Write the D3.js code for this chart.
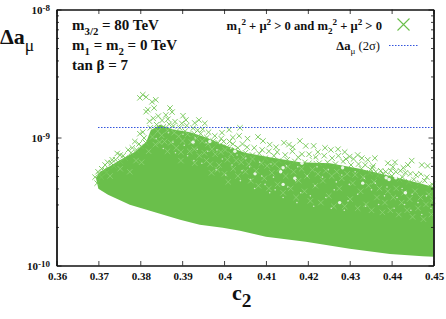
<!DOCTYPE html>
<html>
<head>
<meta charset="utf-8">
<script src="https://cdn.jsdelivr.net/npm/d3@7"></script>
<style>
  html, body { margin: 0; background: #fff; }
  svg { display: block; }
  text { font-family: "Liberation Serif", serif; fill: #111; }
</style>
</head>
<body>
<svg width="446" height="319"></svg>
<script>
// all a values are in units of 1e-10
var xTicks = [0.36, 0.37, 0.38, 0.39, 0.40, 0.41, 0.42, 0.43, 0.44, 0.45];
var yDecades = [-10, -9, -8];
var yMinor = [2, 3, 4, 5, 6, 7, 8, 9, 20, 30, 40, 50, 60, 70, 80, 90];

// bottom edge of the green cloud
var lowerC = [0.3694, 0.3700, 0.3723, 0.3775, 0.3823, 0.3895, 0.3942, 0.3997, 0.4038, 0.4100, 0.4195, 0.4300, 0.4396, 0.4474, 0.4500];
var lowerA = [4.84, 3.97, 3.57, 2.98, 2.68, 2.28, 2.08, 1.97, 1.87, 1.68, 1.53, 1.35, 1.23, 1.18, 1.17];

// top edge of the closely packed part
var cloudC = [0.3694, 0.3704, 0.3728, 0.3756, 0.3787, 0.3814, 0.3825, 0.3847, 0.3876, 0.3919, 0.3954, 0.4002, 0.4050, 0.4109, 0.4181, 0.4253, 0.4324, 0.4396, 0.4467, 0.4500];
var cloudA = [4.84, 5.4, 6.0, 6.8, 7.7, 9.2, 11.4, 12.6, 11.6, 11.0, 10.1, 8.7, 7.6, 7.0, 6.4, 6.3, 5.7, 5.0, 4.4, 4.1];

// separate crosses on the upper rim
var rimPoints = [
  [0.3806, 21.6], [0.3799, 20.4], [0.3814, 20.7], [0.3828, 19.0], [0.3837, 19.7], [0.3833, 17.0],
  [0.3818, 16.5], [0.3814, 15.9], [0.3871, 17.0], [0.3861, 15.0], [0.3876, 15.8], [0.3902, 14.8],
  [0.3909, 13.7], [0.3940, 13.7], [0.3930, 13.0], [0.3954, 12.9], [0.4012, 11.5], [0.3995, 10.9],
  [0.4038, 11.9], [0.4036, 10.3], [0.4021, 10.0], [0.4081, 10.1], [0.4093, 9.4], [0.4056, 9.8],
  [0.4109, 8.8], [0.4124, 8.4], [0.4143, 9.1], [0.4155, 8.8], [0.4164, 8.4], [0.4181, 9.4],
  [0.4195, 8.6], [0.4214, 8.6], [0.4224, 7.7], [0.4241, 8.3], [0.4255, 8.0], [0.4272, 8.1],
  [0.4288, 7.7], [0.4300, 7.1], [0.4319, 7.3], [0.4329, 6.9], [0.4343, 6.7], [0.4360, 6.9],
  [0.4391, 6.3], [0.4408, 6.4], [0.4439, 6.1], [0.4448, 6.6], [0.4472, 6.1], [0.4486, 6.0],
  [0.3787, 9.3], [0.3799, 10.7], [0.3806, 11.0], [0.3771, 8.0], [0.3752, 7.3], [0.3733, 6.7],
  [0.3716, 6.1], [0.3699, 5.4], [0.3692, 4.9], [0.3745, 7.5], [0.3722, 6.4], [0.3708, 5.7],
  [0.4350, 5.6], [0.4362, 5.4], [0.4374, 5.5], [0.4386, 5.4], [0.4398, 5.5], [0.4410, 5.4],
  [0.4421, 5.5], [0.4433, 5.3], [0.4445, 5.2], [0.4458, 5.1], [0.4470, 5.2], [0.4484, 4.9],
  [0.4356, 6.0], [0.4403, 5.9], [0.4428, 5.8]
];

// crosses that break up the top edge of the packed part
var edgePoints = [
  [0.3697, 4.4], [0.3703, 5.1], [0.3707, 4.9], [0.3715, 5.6], [0.3719, 5.3], [0.3731, 6.3], [0.3737, 6.0], [0.3741, 6.7],
  [0.3753, 6.5], [0.3759, 7.2], [0.3764, 6.9], [0.3778, 7.6], [0.3781, 8.3], [0.3791, 8.0], [0.3797, 8.9], [0.3802, 8.5],
  [0.3809, 9.9], [0.3813, 9.1], [0.3822, 13.4], [0.3824, 11.9], [0.3831, 14.1], [0.3839, 12.6], [0.3843, 14.7], [0.3852, 13.6],
  [0.3855, 12.1], [0.3866, 13.9], [0.3869, 12.7], [0.3879, 12.3], [0.3883, 13.3], [0.3894, 11.9], [0.3899, 12.9], [0.3907, 11.2],
  [0.3911, 12.4], [0.3926, 11.8], [0.3929, 10.7], [0.3937, 11.4], [0.3944, 10.7], [0.3949, 11.6], [0.3959, 10.0], [0.3963, 11.0],
  [0.3974, 9.4], [0.3978, 10.3], [0.3986, 9.1], [0.3993, 9.8], [0.3999, 9.3], [0.4007, 8.4], [0.4013, 9.3], [0.4021, 8.9],
  [0.4026, 8.0], [0.4033, 8.3], [0.4044, 8.9], [0.4051, 7.6], [0.4055, 8.4], [0.4068, 7.3], [0.4072, 8.3], [0.4084, 7.5],
  [0.4091, 8.0], [0.4099, 6.9], [0.4107, 7.8], [0.4119, 7.2], [0.4127, 7.7], [0.4131, 6.6], [0.4146, 7.3], [0.4151, 6.7],
  [0.4163, 7.8], [0.4169, 6.5], [0.4177, 7.0], [0.4186, 7.4], [0.4193, 6.4], [0.4203, 7.4], [0.4211, 6.7], [0.4219, 7.0],
  [0.4227, 6.3], [0.4239, 7.2], [0.4247, 6.4], [0.4258, 6.9], [0.4266, 6.2], [0.4273, 7.2], [0.4284, 6.5], [0.4291, 6.8],
  [0.4303, 6.1], [0.4309, 6.8], [0.4321, 6.2], [0.4328, 5.7], [0.4337, 6.1], [0.4348, 5.3], [0.4354, 5.8], [0.4367, 5.0],
  [0.4379, 5.2], [0.4392, 4.9], [0.4401, 5.0], [0.4419, 4.7], [0.4426, 4.9], [0.4441, 4.5], [0.4453, 4.7], [0.4467, 4.4],
  [0.4479, 4.6], [0.4491, 4.2], [0.4497, 4.3]
];

// paler crosses showing through inside the packed part
var innerPoints = [
  [0.3829, 10.1], [0.3842, 11.2], [0.3836, 8.8], [0.3851, 10.4], [0.3858, 9.3], [0.3846, 9.2], [0.3865, 11.4], [0.3881, 10.9],
  [0.3873, 9.1], [0.3892, 10.2], [0.3886, 8.3], [0.3901, 9.4], [0.3897, 7.7], [0.3913, 10.6], [0.3922, 9.2], [0.3918, 7.8],
  [0.3934, 9.8], [0.3929, 8.1], [0.3941, 7.2], [0.3948, 9.4], [0.3953, 7.6], [0.3962, 8.9], [0.3958, 6.6], [0.3971, 8.1],
  [0.3967, 6.2], [0.3979, 7.4], [0.3984, 5.6], [0.3992, 7.7], [0.3988, 6.1], [0.4003, 8.0], [0.4008, 6.7], [0.4001, 5.2],
  [0.4017, 7.4], [0.4022, 5.7], [0.4029, 6.6], [0.4033, 5.0], [0.4041, 6.4], [0.4046, 7.0], [0.4051, 5.4], [0.4059, 6.2],
  [0.4064, 4.6], [0.4068, 6.8], [0.4077, 5.5], [0.4082, 4.2], [0.4089, 6.3], [0.4096, 4.8], [0.4103, 6.0], [0.4107, 4.0],
  [0.4114, 5.3], [0.4121, 6.2], [0.4128, 4.3], [0.4133, 5.7], [0.4141, 3.7], [0.4147, 5.0], [0.4152, 5.9], [0.4159, 4.0],
  [0.4166, 5.4], [0.4172, 3.4], [0.4178, 4.6], [0.4185, 5.7], [0.4192, 3.8], [0.4198, 5.0], [0.4206, 3.2], [0.4211, 5.6],
  [0.4218, 4.2], [0.4224, 5.2], [0.4231, 3.1], [0.4236, 4.6], [0.4243, 5.5], [0.4250, 3.5], [0.4257, 5.0], [0.4262, 2.9],
  [0.4269, 5.4], [0.4275, 4.0], [0.4281, 4.8], [0.4288, 2.9], [0.4294, 5.2], [0.4301, 3.3], [0.4307, 4.4], [0.4313, 5.1],
  [0.4319, 2.8], [0.4326, 3.8], [0.4332, 4.9], [0.4339, 3.0], [0.4345, 4.2], [0.4352, 2.7], [0.4358, 4.5], [0.4365, 3.4],
  [0.4371, 4.0], [0.4378, 2.6], [0.4384, 3.1], [0.4391, 3.8], [0.4397, 2.7], [0.4404, 3.4], [0.4411, 4.0], [0.4417, 2.5],
  [0.4424, 3.1], [0.4430, 3.7], [0.4437, 2.7], [0.4443, 3.3], [0.4450, 2.4], [0.4456, 3.8], [0.4463, 2.8], [0.4469, 3.4],
  [0.4476, 2.3], [0.4482, 3.0], [0.4489, 3.6], [0.4495, 2.5], [0.4498, 3.2], [0.3803, 6.4], [0.3775, 5.4], [0.3752, 5.7],
  [0.3728, 5.0], [0.3820, 7.8], [0.3790, 6.6], [0.3865, 7.8], [0.3897, 6.6], [0.3930, 6.3], [0.3970, 5.3], [0.4010, 4.5]
];

// small gaps where the crosses do not quite cover the cloud
var gapPoints = [
  [0.3838, 9.8], [0.3867, 10.9], [0.3878, 9.2], [0.3902, 10.6], [0.3905, 8.7], [0.3931, 9.9], [0.3936, 8.1], [0.3957, 9.1],
  [0.3961, 7.8], [0.3983, 8.0], [0.3989, 9.0], [0.3996, 6.8], [0.4016, 8.2], [0.4019, 6.1], [0.4031, 7.3], [0.4043, 5.5],
  [0.4052, 6.9], [0.4061, 5.9], [0.4063, 4.7], [0.4085, 6.4], [0.4090, 5.0], [0.4098, 4.3], [0.4112, 6.2], [0.4118, 4.9],
  [0.4122, 3.9], [0.4137, 5.4], [0.4149, 6.0], [0.4152, 4.1], [0.4171, 4.6], [0.4176, 5.9], [0.4183, 3.7], [0.4199, 5.0],
  [0.4206, 3.5], [0.4217, 4.2], [0.4222, 5.9], [0.4235, 4.9], [0.4243, 3.4], [0.4249, 5.6], [0.4263, 3.9], [0.4268, 4.5],
  [0.4281, 5.1], [0.4296, 3.2], [0.4299, 4.3], [0.4313, 5.4], [0.4319, 3.6], [0.4335, 4.8], [0.4338, 2.9], [0.4352, 3.9],
  [0.4361, 4.4], [0.4369, 3.0], [0.4383, 3.5], [0.4389, 4.1], [0.4406, 2.8], [0.4413, 3.4], [0.4425, 4.0], [0.4431, 3.0],
  [0.4446, 2.7], [0.4449, 3.6], [0.4463, 3.1], [0.4472, 2.5], [0.4483, 3.5], [0.4494, 2.8], [0.3855, 8.2], [0.3884, 7.6],
  [0.3913, 7.2], [0.3928, 6.6], [0.3947, 6.3], [0.3981, 5.6], [0.4004, 5.1], [0.4039, 4.6], [0.4073, 4.0], [0.4109, 3.7],
  [0.4141, 3.4], [0.4174, 3.1], [0.4214, 2.9], [0.4256, 2.8], [0.4287, 2.7]
];

// larger holes in the cloud
var holePoints = [
  [0.3966, 9.3], [0.3926, 9.2], [0.4026, 7.8], [0.4074, 5.2], [0.4141, 5.8], [0.4186, 6.3], [0.4212, 6.7], [0.4169, 4.8],
  [0.4276, 6.3], [0.4276, 3.1], [0.4141, 4.3], [0.4387, 4.85], [0.4394, 4.7], [0.4410, 4.85], [0.4487, 5.3], [0.4475, 5.6],
  [0.4489, 4.4], [0.4331, 4.4], [0.4433, 3.7], [0.4135, 5.4], [0.4283, 5.8], [0.4474, 5.4], [0.4451, 5.0]
];

var dashC = [0.37, 0.45];
var dashA = [12.0, 12.0];

var width = 446;
var height = 319;
var margin = {left: 56.5, bottom: 53.5, right: 12.5, top: 9.5};
var green = "#6abf4b";
var dotBlue = "#3355dd";

var xScale = d3.scaleLinear().domain([0.36, 0.45]).range([margin.left, width - margin.right]);
var yScale = d3.scaleLog().domain([1, 100]).range([height - margin.bottom, margin.top]);

var svg = d3.select("svg");

function band(topC, topA) {
  // closed outline: along the bottom edge, back along the top edge
  var low = d3.zip(lowerC, lowerA);
  var top = d3.zip(topC, topA).reverse();
  return d3.line()
    .x(function (d) { return xScale(d[0]); })
    .y(function (d) { return yScale(d[1]); })(low.concat(top)) + "Z";
}

svg.append("path").attr("d", band(cloudC, cloudA)).attr("fill", green);

function place(d) {
  return "translate(" + xScale(d[0]) + "," + yScale(d[1]) + ")";
}

svg.selectAll(".inner")
  .data(innerPoints)
  .enter()
  .append("path")
  .attr("class", "inner")
  .attr("d", "M-2.7,-2.7L2.7,2.7M-2.7,2.7L2.7,-2.7")
  .attr("transform", place)
  .attr("fill", "none")
  .attr("stroke", "#94d57c")
  .attr("stroke-width", 0.7);

svg.selectAll(".cross")
  .data(rimPoints.concat(edgePoints))
  .enter()
  .append("path")
  .attr("class", "cross")
  .attr("d", "M-2.7,-2.7L2.7,2.7M-2.7,2.7L2.7,-2.7")
  .attr("transform", place)
  .attr("fill", "none")
  .attr("stroke", "#74c756")
  .attr("stroke-width", 0.9);

svg.selectAll(".gap")
  .data(gapPoints)
  .enter()
  .append("circle")
  .attr("class", "gap")
  .attr("r", 0.8)
  .attr("transform", place)
  .attr("fill", "#fff")
  .attr("fill-opacity", 0.7);

svg.selectAll(".hole")
  .data(holePoints)
  .enter()
  .append("circle")
  .attr("class", "hole")
  .attr("r", 1.7)
  .attr("transform", place)
  .attr("fill", "#fff")
  .attr("fill-opacity", 0.85);

// 2 sigma line
svg.append("line")
  .attr("x1", Math.round(xScale(dashC[0]))).attr("x2", xScale(dashC[1]))
  .attr("y1", Math.round(yScale(dashA[0])) + 0.5).attr("y2", Math.round(yScale(dashA[1])) + 0.5)
  .attr("stroke", dotBlue)
  .attr("stroke-width", 1.2)
  .attr("stroke-dasharray", "1.5,1.5");

// axes, ticks point inwards on all four sides
function styleAxis(g) {
  g.selectAll("path").attr("stroke", "#111").attr("stroke-width", 1.3);
  g.selectAll("line").attr("stroke", "#111").attr("stroke-width", 0.8);
  g.selectAll("text").remove();
}
var yMajor = yDecades.map(function (d) { return Math.pow(10, d + 10); });

svg.append("g")
  .attr("transform", "translate(0," + (height - margin.bottom) + ")")
  .call(d3.axisBottom(xScale).tickValues(xTicks).tickSizeInner(-4.5).tickSizeOuter(0))
  .call(styleAxis);
svg.append("g")
  .attr("transform", "translate(0," + margin.top + ")")
  .call(d3.axisTop(xScale).tickValues(xTicks).tickSizeInner(-4.5).tickSizeOuter(0))
  .call(styleAxis);
svg.append("g")
  .attr("transform", "translate(" + margin.left + ",0)")
  .call(d3.axisLeft(yScale).tickValues(yMajor).tickSizeInner(-5).tickSizeOuter(0))
  .call(styleAxis);
svg.append("g")
  .attr("transform", "translate(" + (width - margin.right) + ",0)")
  .call(d3.axisRight(yScale).tickValues(yMajor).tickSizeInner(-5).tickSizeOuter(0))
  .call(styleAxis);
svg.append("g")
  .attr("transform", "translate(" + margin.left + ",0)")
  .call(d3.axisLeft(yScale).tickValues(yMinor).tickSizeInner(-2.5).tickSizeOuter(0))
  .call(styleAxis);
svg.append("g")
  .attr("transform", "translate(" + (width - margin.right) + ",0)")
  .call(d3.axisRight(yScale).tickValues(yMinor).tickSizeInner(-2.5).tickSizeOuter(0))
  .call(styleAxis);

// tick labels
svg.selectAll(".xlabel")
  .data(xTicks)
  .enter()
  .append("text")
  .attr("class", "xlabel")
  .attr("x", function (d) { return xScale(d) + 1; })
  .attr("y", height - 39)
  .attr("text-anchor", "middle")
  .attr("font-size", 11)
  .attr("font-weight", "bold")
  .text(function (d) { return String(d); });

yDecades.forEach(function (d, i) {
  var t = svg.append("text")
    .attr("x", margin.left - 6.5)
    .attr("y", yScale(yMajor[i]) + 4.5)
    .attr("text-anchor", "end")
    .attr("font-size", 11)
    .attr("font-weight", "bold");
  t.append("tspan").text("10");
  t.append("tspan").attr("dy", -3.5).attr("font-size", 9).text(String(d));
});

// rich text helper: parts are [string, "sub" | "sup" | null, bold, scale]
function rich(x, y, size, anchor, parts) {
  var t = svg.append("text")
    .attr("x", x).attr("y", y)
    .attr("font-size", size)
    .attr("font-weight", "bold")
    .attr("text-anchor", anchor);
  var shift = 0;
  parts.forEach(function (p) {
    var target = p[1] === "sub" ? size * 0.3 : p[1] === "sup" ? -size * 0.36 : 0;
    var s = t.append("tspan").attr("dy", target - shift).text(p[0]);
    if (p[1]) s.attr("font-size", size * (p[3] || 0.72));
    if (p[2] === false) s.attr("font-weight", "normal");
    shift = target;
  });
  return t;
}

rich(0, 44, 22, "start", [["Δa"], ["μ", "sub", false, 0.8]]);
rich(232, 300, 22, "start", [["c"], ["2", "sub", true, 0.88]]);

rich(72, 30, 15, "start", [["m"], ["3/2", "sub"], [" = 80 TeV"]]);
rich(72, 50, 15, "start", [["m"], ["1", "sub"], [" = m"], ["2", "sub"], [" = 0 TeV"]]);
rich(72, 70, 15, "start", [["tan β = 7"]]);

// legend
rich(382, 30, 12.6, "end", [["m"], ["1", "sub"], ["2", "sup"], [" + μ"], ["2", "sup"], [" > 0 and m"], ["2", "sub"], ["2", "sup"], [" + μ"], ["2", "sup"], [" > 0"]]);
rich(380, 50, 12.6, "end", [["Δa"], ["μ", "sub", false], [" (2σ)", null, false]]);

svg.append("path")
  .attr("d", "M-6,-6L6,6M-6,6L6,-6")
  .attr("transform", "translate(403.5,24.5)")
  .attr("fill", "none")
  .attr("stroke", green)
  .attr("stroke-width", 1.1);
svg.append("line")
  .attr("x1", 389).attr("x2", 419)
  .attr("y1", 45.5).attr("y2", 45.5)
  .attr("stroke", dotBlue)
  .attr("stroke-width", 1.2)
  .attr("stroke-dasharray", "1.5,1.5");
</script>
</body>
</html>
